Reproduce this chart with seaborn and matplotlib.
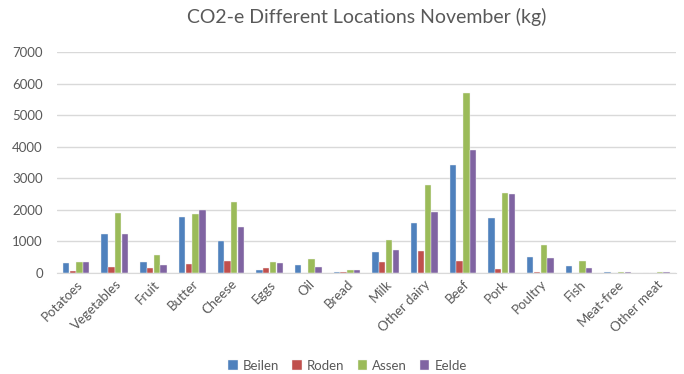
import matplotlib
matplotlib.use("Agg")
import matplotlib.pyplot as plt
import seaborn as sns
import pandas as pd

categories = ["Potatoes", "Vegetables", "Fruit", "Butter", "Cheese", "Eggs", "Oil",
              "Bread", "Milk", "Other dairy", "Beef", "Pork", "Poultry", "Fish",
              "Meat-free", "Other meat"]
locations = ["Beilen", "Roden", "Assen", "Eelde"]
beilen = [317, 1246, 360, 1774, 1014, 95, 243, 42, 665, 1595, 3432, 1742, 507, 232, 42, 0]
roden = [50, 200, 170, 275, 390, 170, 0, 42, 360, 707, 390, 127, 42, 0, 0, 0]
assen = [360, 1900, 580, 1870, 2250, 360, 433, 85, 1056, 2777, 5713, 2545, 898, 390, 42, 42]
eelde = [360, 1246, 243, 2006, 1468, 317, 200, 85, 740, 1943, 3897, 2513, 475, 158, 42, 42]
colors = ["#4F81BD", "#C0504D", "#9BBB59", "#8064A2"]

rows = []
for loc, vals in zip(locations, [beilen, roden, assen, eelde]):
    for cat, v in zip(categories, vals):
        rows.append({"Category": cat, "Location": loc, "kg": v})
df = pd.DataFrame(rows)

sns.set_style("white")
plt.rcParams["font.family"] = ["Lato", "DejaVu Sans"]

fig = plt.figure(figsize=(6.84, 3.74), dpi=100)
ax = fig.add_axes([0.083, 0.27, 0.905, 0.591])
sns.barplot(data=df, x="Category", y="kg", hue="Location", order=categories,
            hue_order=locations, palette=colors, saturation=1, width=0.7, gap=0.06,
            edgecolor="#F2F2F2", linewidth=0.3, ax=ax, legend=True)

ax.set_ylim(0, 7000)
ax.set_yticks(range(0, 7001, 1000))
ax.set_xlim(-0.5, len(categories) - 0.5)
ax.yaxis.grid(True, color="#D9D9D9", linewidth=1)
ax.set_axisbelow(True)
for side in ["top", "right", "left"]:
    ax.spines[side].set_visible(False)
ax.spines["bottom"].set_color("#D9D9D9")
ax.set_xlabel("")
ax.set_ylabel("")
ax.tick_params(axis="both", length=0, colors="#595959", labelsize=9.5)
ax.tick_params(axis="y", pad=10)
plt.setp(ax.get_xticklabels(), rotation=45, ha="right", rotation_mode="anchor")

ax.set_title("CO2-e Different Locations November (kg)", fontsize=14,
             color="#595959", pad=21)

handles, labels = ax.get_legend_handles_labels()
ax.legend(handles, labels, loc="lower center", bbox_to_anchor=(0.47, -0.5),
          ncol=4, frameon=False, fontsize=9.5, handlelength=0.7, handleheight=0.7,
          handletextpad=0.4, columnspacing=1.0, labelcolor="#595959")

fig.savefig("out.png", dpi=100)
